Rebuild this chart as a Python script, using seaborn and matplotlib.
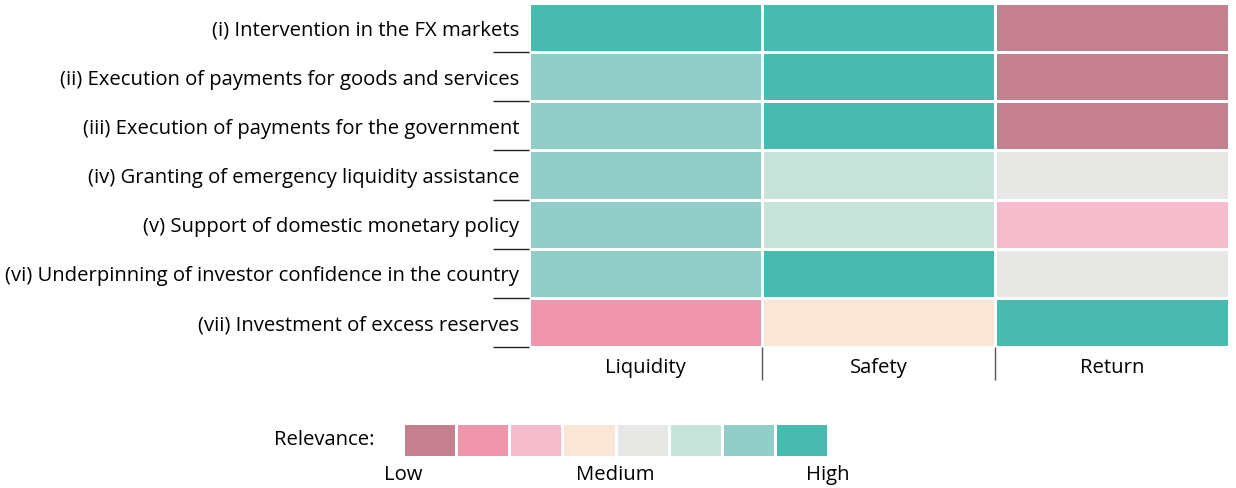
import numpy as np
import seaborn as sns
import matplotlib.pyplot as plt
import matplotlib.transforms as mtransforms
from matplotlib.colors import ListedColormap

plt.rcParams['font.family'] = ['Open Sans', 'DejaVu Sans']

functions = [
    "(i) Intervention in the FX markets",
    "(ii) Execution of payments for goods and services",
    "(iii) Execution of payments for the government",
    "(iv) Granting of emergency liquidity assistance",
    "(v) Support of domestic monetary policy",
    "(vi) Underpinning of investor confidence in the country",
    "(vii) Investment of excess reserves",
]
objectives = ["Liquidity", "Safety", "Return"]
# relevance on a 0 (low) .. 7 (high) scale
relevance = [
    [7, 7, 0],
    [6, 7, 0],
    [6, 7, 0],
    [6, 5, 4],
    [6, 5, 2],
    [6, 7, 4],
    [1, 3, 7],
]
scale_colors = ["#C4808F", "#F096AC", "#F6BBCD", "#F9E6D5",
                "#E7E8E6", "#C7E3DA", "#91CEC8", "#48BAB0"]
scale_labels = ["Low", "Medium", "High"]

FS = 14.6
cmap = ListedColormap(scale_colors)
fig = plt.figure(figsize=(12.36, 4.88), dpi=100)

ax = fig.add_axes([0.428, 0.289, 0.566, 0.705])
sns.heatmap(np.array(relevance), ax=ax, cmap=cmap, vmin=-0.5, vmax=7.5,
            cbar=False, linewidths=1.0, linecolor="white")
ax.set_yticks(np.arange(len(functions)) + 0.5)
ax.set_yticklabels(functions, rotation=0, fontsize=FS)
ax.set_xticks(np.arange(len(objectives)) + 0.5)
ax.set_xticklabels(objectives, fontsize=FS)
ax.tick_params(axis="both", which="major", length=0)
ax.tick_params(axis="y", which="major", pad=7)
ax.tick_params(axis="x", which="major", pad=8)
# labels sit a little below the row centres in the original
shift = mtransforms.ScaledTranslation(0, -3 / 100, fig.dpi_scale_trans)
for lbl in ax.get_yticklabels():
    lbl.set_transform(lbl.get_transform() + shift)
# separators between categories
ax.set_yticks(np.arange(1, len(functions) + 1), minor=True)
ax.set_xticks(np.arange(1, len(objectives)), minor=True)
ax.tick_params(axis="y", which="minor", length=26, width=1, color="#222222")
ax.tick_params(axis="x", which="minor", length=24, width=1, color="#555555")
for s in ax.spines.values():
    s.set_visible(False)

# relevance scale
lax = fig.add_axes([0.326, 0.0635, 0.344, 0.0697])
sns.heatmap(np.arange(len(scale_colors)).reshape(1, -1), ax=lax, cmap=cmap,
            vmin=-0.5, vmax=7.5, cbar=False, linewidths=1.0, linecolor="white")
lax.set_yticks([])
lax.set_xticks([0, len(scale_colors) / 2, len(scale_colors)])
lax.set_xticklabels(scale_labels, rotation=0, fontsize=FS)
lax.tick_params(axis="x", length=0, pad=6)
lax.text(-0.066, 0.5, "Relevance:", transform=lax.transAxes, fontsize=FS,
         ha="right", va="center")

fig.savefig("out.png", dpi=100)
